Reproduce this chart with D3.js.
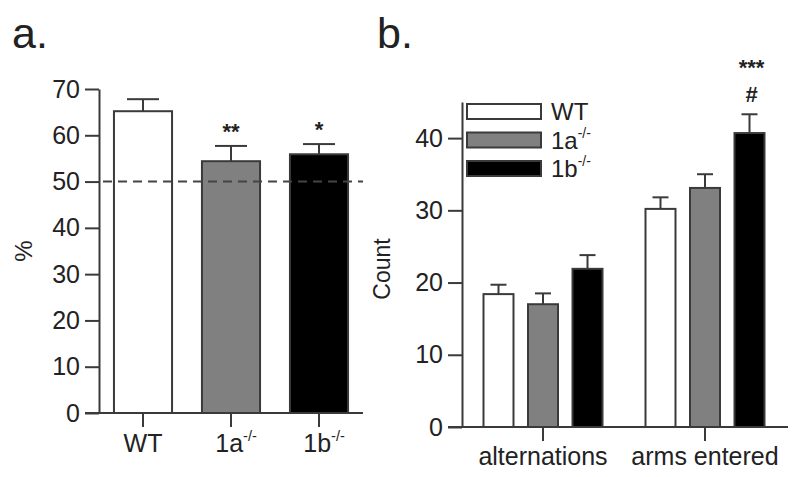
<!DOCTYPE html>
<html>
<head>
<meta charset="utf-8">
<script src="https://cdn.jsdelivr.net/npm/d3@7"></script>
<style>
  html, body { margin: 0; padding: 0; background: #fff; }
  svg { display: block; }
  text { font-family: "Liberation Sans", Arial, sans-serif; fill: #222; }
</style>
</head>
<body>
<div id="viz"></div>
<script>
'use strict';

// panel a: spontaneous alternation (%)
const genotypes = ['WT', '1a', '1b'];
const genoSup = ['', '-/-', '-/-'];
const genoFill = ['#ffffff', '#808080', '#000000'];
const pctMeans = [65.2, 54.4, 55.9];
const pctErr = [2.6, 3.3, 2.2];
const pctMarks = ['', '**', '*'];
const pctTicks = [0, 10, 20, 30, 40, 50, 60, 70];
const chanceLevel = 50;

// panel b: counts
const measures = ['alternations', 'arms entered'];
const countMeans = {
  WT: [18.4, 30.2],
  '1a': [17.0, 33.1],
  '1b': [21.9, 40.7]
};
const countErr = {
  WT: [1.3, 1.6],
  '1a': [1.5, 1.9],
  '1b': [1.9, 2.6]
};
const countMarks = {
  WT: ['', ''],
  '1a': ['', ''],
  '1b': ['', '***\n#']
};
const countTicks = [0, 10, 20, 30, 40];

const W = 800, H = 477;
const ink = '#3a3a3a';

const svg = d3.select('#viz')
  .append('svg')
    .attr('width', W)
    .attr('height', H);

function addLabel(sel, name, sup, size) {
  sel.append('tspan').text(name);
  if (sup)
    sel.append('tspan')
      .attr('dy', -size * 0.45)
      .attr('font-size', size * 0.58)
      .text(sup);
}

function styleAxis(g, size) {
  g.selectAll('path, line')
    .attr('stroke', ink)
    .attr('stroke-width', 2);
  g.selectAll('text')
    .attr('font-size', size)
    .attr('fill', '#222')
    .attr('font-family', '"Liberation Sans", Arial, sans-serif');
}

// ---------- panel a ----------
{
  const yA = d3.scaleLinear().domain([0, 70]).range([413, 89]);
  const xA = d3.scaleBand()
    .domain(genotypes)
    .range([99, 363])
    .paddingInner(0.34)
    .paddingOuter(0.17);

  svg.append('text')
    .attr('x', 12)
    .attr('y', 48)
    .attr('font-size', 43)
    .text('a.');

  // bars
  genotypes.forEach((g, i) => {
    const x0 = xA(g);
    const bw = xA.bandwidth();
    const cx = x0 + bw / 2;
    const top = yA(pctMeans[i]);
    const cap = yA(pctMeans[i] + pctErr[i]);

    svg.append('line')
      .attr('x1', cx).attr('x2', cx)
      .attr('y1', top).attr('y2', cap)
      .attr('stroke', ink).attr('stroke-width', 2);
    svg.append('line')
      .attr('x1', cx - 16).attr('x2', cx + 16)
      .attr('y1', cap).attr('y2', cap)
      .attr('stroke', ink).attr('stroke-width', 2);

    svg.append('rect')
      .attr('x', x0)
      .attr('y', top)
      .attr('width', bw)
      .attr('height', yA(0) - top)
      .attr('fill', genoFill[i])
      .attr('stroke', ink)
      .attr('stroke-width', 2);

    if (pctMarks[i])
      svg.append('text')
        .attr('x', cx)
        .attr('y', cap - 7)
        .attr('text-anchor', 'middle')
        .attr('font-size', 22)
        .attr('font-weight', 'bold')
        .attr('fill', '#333')
        .text(pctMarks[i]);
  });

  // chance line
  svg.append('line')
    .attr('x1', 103).attr('x2', 363)
    .attr('y1', yA(chanceLevel)).attr('y2', yA(chanceLevel))
    .attr('stroke', '#444')
    .attr('stroke-width', 2)
    .attr('stroke-dasharray', '9,6');

  const yAxisA = svg.append('g')
    .attr('transform', 'translate(99,0)')
    .call(d3.axisLeft(yA).tickValues(pctTicks).tickSize(14).tickPadding(5).tickSizeOuter(0));
  styleAxis(yAxisA, 25);

  const xAxisA = svg.append('g')
    .attr('transform', `translate(0,${yA(0)})`)
    .call(d3.axisBottom(xA).tickSize(14).tickPadding(8).tickFormat(''));
  xAxisA.select('.domain').remove();
  styleAxis(xAxisA, 24);

  svg.append('line')
    .attr('x1', 85).attr('x2', 363)
    .attr('y1', yA(0)).attr('y2', yA(0))
    .attr('stroke', ink).attr('stroke-width', 2);

  genotypes.forEach((g, i) => {
    const t = svg.append('text')
      .attr('x', xA(g) + xA.bandwidth() / 2 + (genoSup[i] ? 5 : 0))
      .attr('y', 452)
      .attr('text-anchor', 'middle')
      .attr('font-size', 25);
    addLabel(t, g, genoSup[i], 25);
  });

  svg.append('text')
    .attr('transform', 'translate(32,251) rotate(-90)')
    .attr('text-anchor', 'middle')
    .attr('font-size', 24)
    .text('%');
}

// ---------- panel b ----------
{
  const yB = d3.scaleLinear().domain([0, 45]).range([427, 102]);
  const xB = d3.scaleBand()
    .domain(measures)
    .range([462, 786]);
  const xSub = d3.scaleBand()
    .domain(genotypes)
    .range([-59.5, 59.5])
    .paddingInner(0.326);

  svg.append('text')
    .attr('x', 377)
    .attr('y', 48)
    .attr('font-size', 43)
    .text('b.');

  measures.forEach((m, j) => {
    const gc = xB(m) + xB.bandwidth() / 2;
    genotypes.forEach((g, i) => {
      const x0 = gc + xSub(g);
      const bw = xSub.bandwidth();
      const cx = x0 + bw / 2;
      const v = countMeans[g][j];
      const top = yB(v);
      const cap = yB(v + countErr[g][j]);

      svg.append('line')
        .attr('x1', cx).attr('x2', cx)
        .attr('y1', top).attr('y2', cap)
        .attr('stroke', ink).attr('stroke-width', 2);
      svg.append('line')
        .attr('x1', cx - 8).attr('x2', cx + 8)
        .attr('y1', cap).attr('y2', cap)
        .attr('stroke', ink).attr('stroke-width', 2);

      svg.append('rect')
        .attr('x', x0)
        .attr('y', top)
        .attr('width', bw)
        .attr('height', yB(0) - top)
        .attr('fill', genoFill[i])
        .attr('stroke', ink)
        .attr('stroke-width', 2);

      const mark = countMarks[g][j];
      if (mark) {
        const lines = mark.split('\n').reverse();
        lines.forEach((s, k) => {
          svg.append('text')
            .attr('x', cx + 2)
            .attr('y', cap - 12 - k * 27)
            .attr('text-anchor', 'middle')
            .attr('font-size', 22)
            .attr('font-weight', 'bold')
            .attr('fill', '#333')
            .text(s);
        });
      }
    });
  });

  const yAxisB = svg.append('g')
    .attr('transform', 'translate(462,0)')
    .call(d3.axisLeft(yB).tickValues(countTicks).tickSize(14).tickPadding(5).tickSizeOuter(0));
  styleAxis(yAxisB, 25);

  const xAxisB = svg.append('g')
    .attr('transform', `translate(0,${yB(0)})`)
    .call(d3.axisBottom(xB).tickSize(14).tickPadding(8).tickFormat(''));
  xAxisB.select('.domain').remove();
  styleAxis(xAxisB, 24);

  svg.append('line')
    .attr('x1', 448).attr('x2', 788)
    .attr('y1', yB(0)).attr('y2', yB(0))
    .attr('stroke', ink).attr('stroke-width', 2);

  measures.forEach(m => {
    svg.append('text')
      .attr('x', xB(m) + xB.bandwidth() / 2)
      .attr('y', 465)
      .attr('text-anchor', 'middle')
      .attr('font-size', 25)
      .text(m);
  });

  svg.append('text')
    .attr('transform', 'translate(390,269) rotate(-90)')
    .attr('text-anchor', 'middle')
    .attr('font-size', 23)
    .text('Count');

  // legend
  const leg = svg.append('g');
  genotypes.forEach((g, i) => {
    const y = 104 + i * 28.5;
    leg.append('rect')
      .attr('x', 467)
      .attr('y', y)
      .attr('width', 74)
      .attr('height', 15)
      .attr('fill', genoFill[i])
      .attr('stroke', ink)
      .attr('stroke-width', 2);
    const t = leg.append('text')
      .attr('x', 551)
      .attr('y', y + 16)
      .attr('font-size', 24);
    addLabel(t, g, genoSup[i], 24);
  });
}
</script>
</body>
</html>
